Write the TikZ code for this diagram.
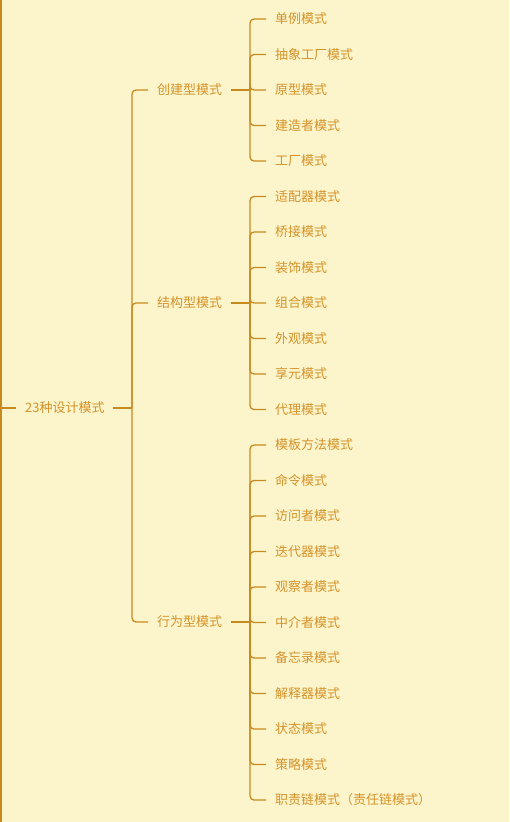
\documentclass[tikz,border=0pt]{standalone}
\usepackage{fontspec}
\newfontfamily\cjk{Noto Sans CJK SC}
\usetikzlibrary{calc}
\definecolor{bg}{HTML}{FCF5CC}
\definecolor{ln}{HTML}{C88A1E}
\definecolor{tx}{HTML}{D4932A}
\begin{document}
\begin{tikzpicture}[x=1pt,y=-1pt,
  lbl/.style={anchor=west,inner sep=0pt,text=tx,font=\cjk\fontsize{13pt}{15pt}\selectfont},
  conn/.style={draw=ln,line width=1.3pt,rounded corners=4pt}]
\fill[bg] (0,0) rectangle (509,822);
\useasboundingbox (0,0) rectangle (509,822);
% root
\node[lbl] (root) at (25,408) {23种设计模式};
\coordinate (rj) at (132,408);
\coordinate (lt) at (1,0);
\coordinate (lb) at (1,822);
\coordinate (ls) at (1,408);
\draw[conn] (lt) -- (lb);
\draw[conn] ([xshift=-9pt]root.west) -- (ls);
\draw[conn] ([xshift=8pt]root.east) -- (rj);
% categories
\node[lbl] (c1) at (157,90) {创建型模式};
\node[lbl] (c2) at (157,303) {结构型模式};
\node[lbl] (c3) at (157,622) {行为型模式};
\foreach \c in {c1,c2,c3}{
  \draw[conn] ([xshift=-9pt]\c.west) -| (rj);
  \draw[conn] ([xshift=9pt]\c.east) -- ($(\c.west)+(93,0)$);
}
% children
\foreach \t [count=\i from 0] in {单例模式,抽象工厂模式,原型模式,建造者模式,工厂模式}{
  \node[lbl] (a\i) at (275,{19+35.5*\i}) {\t};
  \draw[conn] ([xshift=-9pt]a\i.west) -| ($(c1.west)+(93,0)$);
}
\foreach \t [count=\i from 5] in {适配器模式,桥接模式,装饰模式,组合模式,外观模式,享元模式,代理模式}{
  \node[lbl] (a\i) at (275,{19+35.5*\i}) {\t};
  \draw[conn] ([xshift=-9pt]a\i.west) -| ($(c2.west)+(93,0)$);
}
\foreach \t [count=\i from 12] in {模板方法模式,命令模式,访问者模式,迭代器模式,观察者模式,中介者模式,备忘录模式,解释器模式,状态模式,策略模式,职责链模式（责任链模式）}{
  \node[lbl] (a\i) at (275,{19+35.5*\i}) {\t};
  \draw[conn] ([xshift=-9pt]a\i.west) -| ($(c3.west)+(93,0)$);
}
\end{tikzpicture}
\end{document}
